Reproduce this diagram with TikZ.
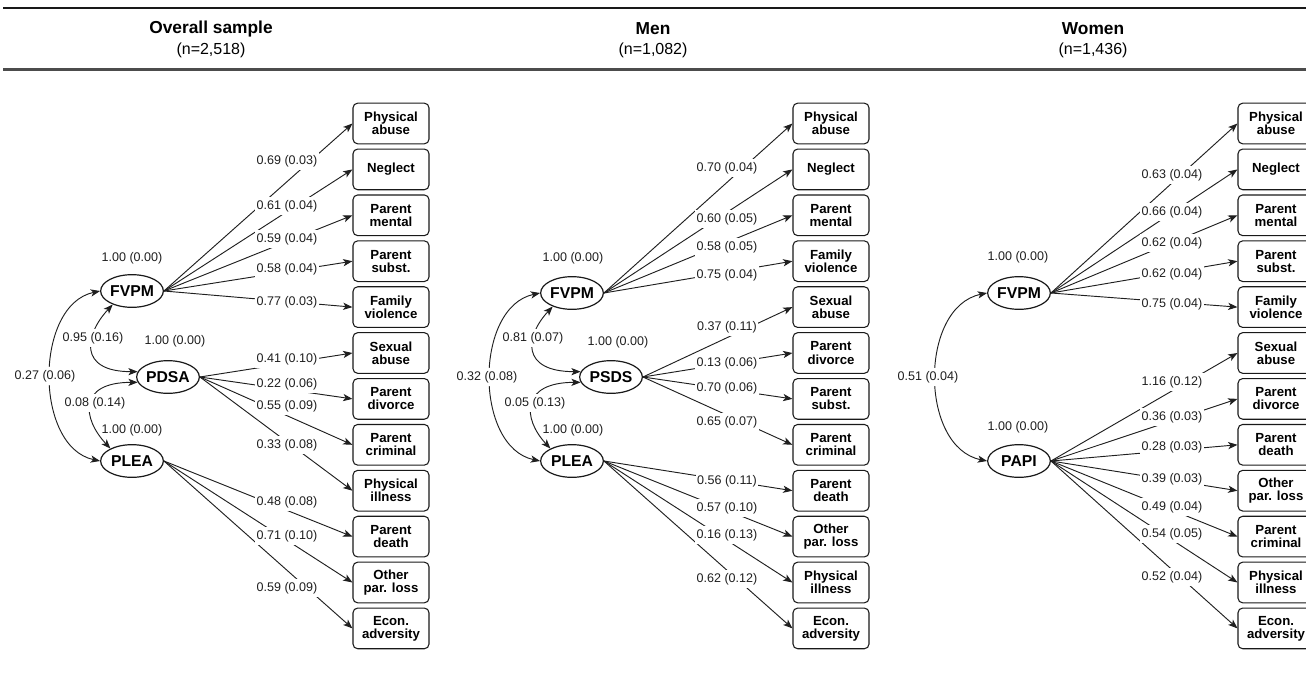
\documentclass[tikz,border=0pt]{standalone}
\usepackage{fontspec}
\setmainfont{Liberation Sans}
\usetikzlibrary{arrows.meta,shapes.geometric}
\tikzset{
  tip/.tip={Stealth[length=7pt,width=5.4pt,inset=1.8pt]},
  lat/.style={ellipse, draw=black!90, line width=0.9pt, minimum width=47pt, minimum height=24.5pt, inner sep=0pt, font=\fontsize{11.8}{13}\selectfont\bfseries},
  ind/.style={draw=black!90, rounded corners=3.5pt, line width=0.8pt, minimum width=57pt, minimum height=30.5pt, inner sep=1pt, align=center, font=\fontsize{9.9}{9.8}\selectfont\bfseries},
  load/.style={-tip, line width=0.7pt, draw=black!88},
  cov/.style={tip-tip, line width=0.7pt, draw=black!88},
  lab/.style={fill=white, inner xsep=1pt, inner ysep=2.6pt, text=black!88, font=\fontsize{9.4}{11}\selectfont},
  var/.style={text=black!88, inner sep=1pt, font=\fontsize{9.4}{11}\selectfont},
  ttl/.style={font=\fontsize{13}{15}\selectfont\bfseries},
  sub/.style={font=\fontsize{12}{14}\selectfont},
}
\begin{document}
\begin{tikzpicture}[x=0.75pt,y=-0.75pt]
\useasboundingbox (0,0) rectangle (1306,685);
% header rules and titles
\draw[line width=1.3pt, black!90] (3,8) -- (1306,8);
\draw[line width=1.8pt, black!70] (3,69.5) -- (1306,69.5);
\node[ttl] (t1) at (211,29) {Overall sample};
\node[sub] (s1) at (211,50) {(n=2,518)};
\node[ttl] (t2) at (653,29) {Men};
\node[sub] (s2) at (653,50) {(n=1,082)};
\node[ttl] (t3) at (1093,29) {Women};
\node[sub] (s3) at (1093,50) {(n=1,436)};

% ================= Overall sample =================
\node[lat] (oF) at (132,291) {FVPM};
\node[lat] (oD) at (168,377) {PDSA};
\node[lat] (oL) at (132,461) {PLEA};
\node[var] (ov1) at (132,258) {1.00 (0.00)};
\node[var] (ov2) at (175,341) {1.00 (0.00)};
\node[var] (ov3) at (132,430) {1.00 (0.00)};
\foreach \t [count=\i from 0] in {{Physical\\abuse},{Neglect},{Parent\\mental},{Parent\\subst.},{Family\\violence},{Sexual\\abuse},{Parent\\divorce},{Parent\\criminal},{Physical\\illness},{Parent\\death},{Other\\par. loss},{Econ.\\adversity}}
  \node[ind] (o\i) at (391,{123.5+45.9*\i}) {\t};
\foreach \i in {0,...,4} \draw[load] (oF.east) -- (o\i.west);
\foreach \i in {5,...,8} \draw[load] (oD.east) -- (o\i.west);
\foreach \i in {9,...,11} \draw[load] (oL.east) -- (o\i.west);
\draw[cov] (oF.west) .. controls +(-66,14) and +(-66,-14) .. (oL.west);
\draw[cov] (oF.215) .. controls +(-28,30) and +(-60,0) .. (oD.170);
\draw[cov] (oD.190) .. controls +(-60,0) and +(-28,-30) .. (oL.150);
\node[lab] (oc1) at (45,376) {0.27 (0.06)};
\node[lab] (oc2) at (93,338) {0.95 (0.16)};
\node[lab] (oc3) at (95,403) {0.08 (0.14)};
\foreach \y/\t [count=\i from 0] in {161/0.69 (0.03),206/0.61 (0.04),239/0.59 (0.04),269/0.58 (0.04),302/0.77 (0.03),359/0.41 (0.10),384/0.22 (0.06),406/0.55 (0.09),445/0.33 (0.08),502/0.48 (0.08),536/0.71 (0.10),588/0.59 (0.09)}
  \node[lab] (ol\i) at (287,\y) {\t};

% ================= Men =================
\node[lat] (mF) at (572,293) {FVPM};
\node[lat] (mD) at (611,377) {PSDS};
\node[lat] (mL) at (572,461) {PLEA};
\node[var] (mv1) at (573,258) {1.00 (0.00)};
\node[var] (mv2) at (618,342) {1.00 (0.00)};
\node[var] (mv3) at (573,430) {1.00 (0.00)};
\foreach \t [count=\i from 0] in {{Physical\\abuse},{Neglect},{Parent\\mental},{Family\\violence},{Sexual\\abuse},{Parent\\divorce},{Parent\\subst.},{Parent\\criminal},{Parent\\death},{Other\\par. loss},{Physical\\illness},{Econ.\\adversity}}
  \node[ind] (m\i) at (831,{123.5+45.9*\i}) {\t};
\foreach \i in {0,...,3} \draw[load] (mF.east) -- (m\i.west);
\foreach \i in {4,...,7} \draw[load] (mD.east) -- (m\i.west);
\foreach \i in {8,...,11} \draw[load] (mL.east) -- (m\i.west);
\draw[cov] (mF.west) .. controls +(-66,14) and +(-66,-14) .. (mL.west);
\draw[cov] (mF.215) .. controls +(-28,30) and +(-60,0) .. (mD.170);
\draw[cov] (mD.190) .. controls +(-60,0) and +(-28,-30) .. (mL.150);
\node[lab] (mc1) at (487,377) {0.32 (0.08)};
\node[lab] (mc2) at (533,338) {0.81 (0.07)};
\node[lab] (mc3) at (535,403) {0.05 (0.13)};
\foreach \y/\t [count=\i from 0] in {168/0.70 (0.04),219/0.60 (0.05),247/0.58 (0.05),275/0.75 (0.04),327/0.37 (0.11),363/0.13 (0.06),388/0.70 (0.06),422/0.65 (0.07),481/0.56 (0.11),508/0.57 (0.10),535/0.16 (0.13),579/0.62 (0.12)}
  \node[lab] (ml\i) at (727,\y) {\t};

% ================= Women =================
\node[lat] (wF) at (1019,293) {FVPM};
\node[lat] (wP) at (1019,461) {PAPI};
\node[var] (wv1) at (1018,257) {1.00 (0.00)};
\node[var] (wv2) at (1018,427) {1.00 (0.00)};
\foreach \t [count=\i from 0] in {{Physical\\abuse},{Neglect},{Parent\\mental},{Parent\\subst.},{Family\\violence},{Sexual\\abuse},{Parent\\divorce},{Parent\\death},{Other\\par. loss},{Parent\\criminal},{Physical\\illness},{Econ.\\adversity}}
  \node[ind] (w\i) at (1276,{123.5+45.9*\i}) {\t};
\foreach \i in {0,...,4} \draw[load] (wF.east) -- (w\i.west);
\foreach \i in {5,...,11} \draw[load] (wP.east) -- (w\i.west);
\draw[cov] (wF.west) .. controls +(-68,14) and +(-68,-14) .. (wP.west);
\node[lab] (wc1) at (928,377) {0.51 (0.04)};
\foreach \y/\t [count=\i from 0] in {175/0.63 (0.04),212/0.66 (0.04),243/0.62 (0.04),274/0.62 (0.04),304/0.75 (0.04),382/1.16 (0.12),417/0.36 (0.03),447/0.28 (0.03),479/0.39 (0.03),507/0.49 (0.04),534/0.54 (0.05),577/0.52 (0.04)}
  \node[lab] (wl\i) at (1172,\y) {\t};
\end{tikzpicture}
\end{document}
